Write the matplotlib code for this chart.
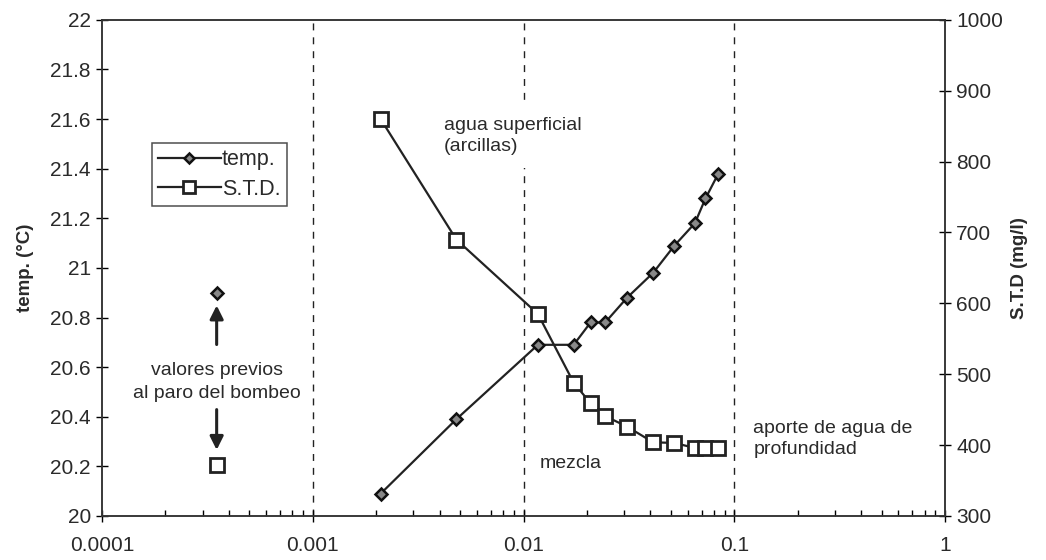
import numpy as np
import matplotlib
matplotlib.use('Agg')
from matplotlib import pyplot as plt
from matplotlib.ticker import LogLocator, FixedLocator, NullFormatter, FuncFormatter

plt.rcParams['font.family'] = ['Liberation Sans', 'DejaVu Sans']

# time since pump stop (log scale) and the two recovery series
t = [0.0021, 0.0048, 0.0117, 0.0173, 0.0208, 0.0244, 0.031, 0.0412,
     0.052, 0.065, 0.073, 0.084]
temp = [20.09, 20.39, 20.69, 20.69, 20.78, 20.78, 20.88, 20.98,
        21.09, 21.18, 21.28, 21.38]
std = [860, 690, 585, 488, 459, 441, 426, 404, 403, 396, 396, 396]

# values before the pump was stopped
t_prev = 0.00035
temp_prev = 20.9
std_prev = 372

left_ticks = [20, 20.2, 20.4, 20.6, 20.8, 21, 21.2, 21.4, 21.6, 21.8, 22]
left_labels = ['20', '20.2', '20.4', '20.6', '20.8', '21', '21.2', '21.4', '21.6', '21.8', '22']
right_ticks = [300, 400, 500, 600, 700, 800, 900, 1000]
x_ticks = [0.0001, 0.001, 0.01, 0.1, 1]
x_labels = ['0.0001', '0.001', '0.01', '0.1', '1']

fig = plt.figure(figsize=(10.46, 5.6), dpi=100)
ax = fig.add_axes([0.0975, 0.0786, 0.806, 0.886])
ax2 = ax.twinx()

ax.set_xscale('log')
ax.set_xlim(0.0001, 1)
ax.set_ylim(20, 22)
ax2.set_ylim(300, 1000)

ax.xaxis.set_major_locator(FixedLocator(x_ticks))
ax.xaxis.set_major_formatter(FuncFormatter(lambda v, p: x_labels[x_ticks.index(v)] if v in x_ticks else ''))
ax.xaxis.set_minor_locator(LogLocator(base=10, subs=np.arange(2, 10)))
ax.xaxis.set_minor_formatter(NullFormatter())
ax.set_yticks(left_ticks)
ax.set_yticklabels(left_labels)
ax2.set_yticks(right_ticks)

txtc = '#2a2a2a'
ax.tick_params(axis='x', which='major', direction='inout', length=9, width=1,
               labelsize=15, pad=10, labelcolor=txtc)
ax.tick_params(axis='x', which='minor', direction='in', length=4, width=1)
ax.tick_params(axis='y', direction='inout', length=9, width=1, labelsize=15, labelcolor=txtc)
ax2.tick_params(axis='y', direction='inout', length=9, width=1, labelsize=15, labelcolor=txtc)
for a in (ax, ax2):
    for s in a.spines.values():
        s.set_color('#333333')
        s.set_linewidth(1.1)

ax.set_ylabel('temp. (°C)', fontsize=13.5, fontweight='bold', labelpad=12, color=txtc)
ax2.set_ylabel('S.T.D (mg/l)', fontsize=13.5, fontweight='bold', labelpad=6, color=txtc)

for xv in [0.001, 0.01, 0.1]:
    ax.axvline(xv, color='#222222', linestyle=(0, (5, 5)), linewidth=1, zorder=1)

l1, = ax.plot(t, temp, color='#222222', linewidth=1.6, marker='D', markersize=6.5,
              markerfacecolor='#888888', markeredgecolor='#111111', markeredgewidth=1.8,
              label='temp.', zorder=4)
ax.plot([t_prev], [temp_prev], linestyle='none', marker='D', markersize=6.5,
        markerfacecolor='#888888', markeredgecolor='#111111', markeredgewidth=1.8, zorder=4)
l2, = ax2.plot(t, std, color='#222222', linewidth=1.6, marker='s', markersize=10,
               markerfacecolor='white', markeredgecolor='#222222', markeredgewidth=2,
               label='S.T.D.', zorder=4)
ax2.plot([t_prev], [std_prev], linestyle='none', marker='s', markersize=10,
         markerfacecolor='white', markeredgecolor='#222222', markeredgewidth=2, zorder=4)

leg = ax2.legend([l1, l2], ['temp.', 'S.T.D.'], loc='upper left',
                 bbox_to_anchor=(0.059, 0.752), fontsize=15.5, frameon=True,
                 fancybox=False, edgecolor='#222222', handlelength=2.9,
                 handletextpad=0.05, borderpad=0.3, labelspacing=0.4,
                 borderaxespad=0, markerscale=0.85)
leg.get_frame().set_linewidth(1.1)
for txt in leg.get_texts():
    txt.set_color(txtc)

# annotations
ax.text(0.0042, 21.53, 'agua superficial\n(arcillas)', fontsize=14, color=txtc,
        ha='left', va='center', linespacing=1.3,
        bbox=dict(facecolor='white', edgecolor='none', pad=9), zorder=3)
ax.text(0.0119, 20.21, 'mezcla', fontsize=14, color=txtc, ha='left', va='center')
ax.text(0.123, 20.31, 'aporte de agua de\nprofundidad', fontsize=14, color=txtc,
        ha='left', va='center', linespacing=1.3)
ax.text(t_prev, 20.54, 'valores previos\nal paro del bombeo', fontsize=14,
        color=txtc, ha='center', va='center', linespacing=1.45)
ax.annotate('', xy=(t_prev, 20.86), xytext=(t_prev, 20.68),
            arrowprops=dict(arrowstyle='-|>', color='#222222', lw=2.2, mutation_scale=20))
ax.annotate('', xy=(t_prev, 20.255), xytext=(t_prev, 20.44),
            arrowprops=dict(arrowstyle='-|>', color='#222222', lw=2.2, mutation_scale=20))

fig.savefig('out.png', dpi=100)
